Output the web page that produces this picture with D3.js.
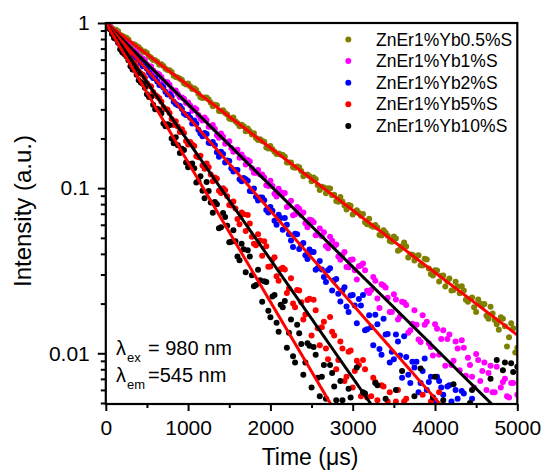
<!DOCTYPE html>
<html>
<head>
<meta charset="utf-8">
<script src="https://cdn.jsdelivr.net/npm/d3@7"></script>
<style>
body { margin: 0; background: #fff; }
text { font-family: "Liberation Sans", Arial, sans-serif; fill: #000; }
</style>
</head>
<body>
<svg width="545" height="471"></svg>
<script>
// time axis of the decay traces (us); two interleaved sampling grids
var times = [0,50,100,150,200,250,300,350,400,450,500,550,600,650,700,750,800,850,900,950,
  1000,1050,1100,1150,1200,1250,1300,1350,1400,1450,1500,1550,1600,1650,1700,1750,1800,1850,1900,1950,
  2000,2050,2100,2150,2200,2250,2300,2350,2400,2450,2500,2550,2600,2650,2700,2750,2800,2850,2900,2950,
  3000,3050,3100,3150,3200,3250,3300,3350,3400,3450,3500,3550,3600,3650,3700,3750,3800,3850,3900,3950,
  4000,4050,4100,4150,4200,4250,4300,4350,4400,4450,4500,4550,4600,4650,4700,4750,4800,4850,4900,4950,5000];
var timesB = [25,75,125,175,225,275,325,375,425,475,525,575,625,675,725,775,825,875,925,975,
  1025,1075,1125,1175,1225,1275,1325,1375,1425,1475,1525,1575,1625,1675,1725,1775,1825,1875,1925,1975,
  2025,2075,2125,2175,2225,2275,2325,2375,2425,2475,2525,2575,2625,2675,2725,2775,2825,2875,2925,2975,
  3025,3075,3125,3175,3225,3275,3325,3375,3425,3475,3525,3575,3625,3675,3725,3775,3825,3875,3925,3975,
  4025,4075,4125,4175,4225,4275,4325,4375,4425,4475,4525,4575,4625,4675,4725,4775,4825,4875,4925,4975];

var yb05 = [1.00,0.962,0.908,0.892,0.836,0.814,0.755,0.740,0.712,0.667,0.659,0.615,0.595,0.559,0.550,0.519,0.505,0.471,0.460,0.431,
  0.430,0.398,0.393,0.355,0.354,0.344,0.313,0.318,0.292,0.285,0.264,0.268,0.247,0.242,0.221,0.221,0.215,0.196,0.193,0.176,
  0.180,0.166,0.162,0.159,0.143,0.143,0.133,0.134,0.118,0.121,0.110,0.113,0.0975,0.101,0.0998,0.0905,0.0836,0.0885,0.0786,0.0790,
  0.0692,0.0734,0.0681,0.0622,0.0652,0.0583,0.0578,0.0516,0.0537,0.0478,0.0510,0.0418,0.0445,0.0443,0.0396,0.0364,0.0392,0.0340,0.0370,0.0302,
  0.0318,0.0272,0.0296,0.0273,0.0240,0.0271,0.0231,0.0240,0.0205,0.0218,0.0178,0.0200,0.0199,0.0162,0.0174,0.0150,0.0165,0.0146,0.0125,0.0142,0.0108];
var yb05B = [0.986,0.933,0.909,0.845,0.824,0.794,0.745,0.725,0.690,0.671,
  0.628,0.598,0.583,0.562,0.529,0.518,0.480,0.467,0.451,0.424,
  0.414,0.402,0.373,0.352,0.354,0.329,0.320,0.293,0.296,0.279,
  0.261,0.254,0.237,0.237,0.230,0.211,0.201,0.198,0.191,0.174,
  0.172,0.161,0.160,0.155,0.143,0.134,0.135,0.127,0.120,0.118,
  0.116,0.104,0.102,0.0930,0.0994,0.0913,0.0827,0.0831,0.0743,0.0783,
  0.0714,0.0708,0.0697,0.0605,0.0592,0.0598,0.0520,0.0556,0.0515,0.0473,
  0.0496,0.0425,0.0469,0.0380,0.0395,0.0387,0.0341,0.0373,0.0326,0.0296,
  0.0317,0.0295,0.0254,0.0284,0.0242,0.0254,0.0255,0.0211,0.0214,0.0190,
  0.0212,0.0195,0.0169,0.0191,0.0159,0.0139,0.0162,0.0110,0.0152,0.0101];

var yb1 = [1.00,0.951,0.884,0.852,0.790,0.762,0.703,0.680,0.630,0.610,0.560,0.546,0.499,0.487,0.445,0.437,0.397,0.390,0.355,0.348,
  0.330,0.294,0.300,0.264,0.268,0.235,0.241,0.209,0.214,0.186,0.192,0.166,0.171,0.160,0.139,0.145,0.124,0.129,0.121,0.104,
  0.111,0.0925,0.0990,0.0918,0.0770,0.0840,0.0695,0.0750,0.0712,0.0580,0.0640,0.0518,0.0570,0.0540,0.0432,0.0480,0.0456,0.0368,0.0410,0.0332,
  0.0370,0.0280,0.0340,0.0318,0.0232,0.0290,0.0215,0.0262,0.0250,0.0178,0.0228,0.0160,0.0205,0.0196,0.0138,0.0182,0.0121,0.0170,0.0155,0.0109,
  0.0150,0.0098,0.0138,0.0122,0.0085,0.0118,0.0079,0.0108,0.0094,0.0072,0.0099,0.0068,0.0088,0.0076,0.0058,0.0083,0.0062,0.0070,0.0054,0.0066,0.0056];
var yb1B = [0.979,0.915,0.879,0.807,0.776,0.739,0.685,0.658,0.617,0.593,
  0.548,0.515,0.495,0.471,0.438,0.423,0.387,0.371,0.354,0.328,
  0.317,0.306,0.277,0.257,0.259,0.235,0.228,0.202,0.205,0.190,
  0.175,0.169,0.153,0.153,0.148,0.132,0.124,0.121,0.116,0.103,
  0.103,0.0890,0.0943,0.0934,0.0786,0.0686,0.0770,0.0687,0.0613,0.0643,
  0.0621,0.0523,0.0511,0.0446,0.0507,0.0447,0.0385,0.0395,0.0333,0.0369,
  0.0318,0.0336,0.0350,0.0239,0.0242,0.0275,0.0188,0.0257,0.0217,0.0178,
  0.0212,0.0167,0.0203,0.0133,0.0151,0.0149,0.0117,0.0149,0.0115,0.0097,
  0.0141,0.0122,0.0084,0.0130,0.0090,0.0107,0.0120,0.0073,0.0085,0.0062,
  0.0091,0.0078,0.0060,0.0084,0.0058,null,0.0067,0.0055,0.0066,null];

var yb2 = [1.00,0.930,0.885,0.815,0.778,0.712,0.684,0.625,0.600,0.547,0.528,0.480,0.463,0.421,0.407,0.369,0.357,0.323,0.314,0.283,
  0.278,0.246,0.245,0.214,0.216,0.188,0.190,0.165,0.166,0.143,0.146,0.126,0.129,0.110,0.113,0.0960,0.0995,0.0842,0.0878,0.0738,
  0.0770,0.0635,0.0690,0.0560,0.0600,0.0482,0.0530,0.0428,0.0466,0.0372,0.0410,0.0320,0.0362,0.0290,0.0318,0.0240,0.0282,0.0206,0.0251,0.0178,
  0.0225,0.0152,0.0195,0.0138,0.0170,0.0112,0.0150,0.0098,0.0130,0.0088,0.0092,0.0118,0.0071,0.0095,0.0066,0.0082,0.0058,0.0078,0.0060,0.0072,
  0.0052,0.0068,0.0056,0.0063,0.0051,0.0060,null,0.0057,null,0.0053,null,null,null,null,null,null,null,null,null,null,null];
var yb2B = [0.977,0.903,0.862,0.779,0.747,0.706,0.644,0.616,0.572,0.547,
  0.499,0.464,0.443,0.419,0.384,0.370,0.334,0.318,0.301,0.277,
  0.267,0.257,0.226,0.206,0.213,0.187,0.182,0.155,0.161,0.147,
  0.132,0.129,0.113,0.115,0.111,0.0957,0.0886,0.0877,0.0845,0.0713,
  0.0729,0.0600,0.0660,0.0660,0.0526,0.0440,0.0525,0.0453,0.0392,0.0425,
  0.0411,0.0328,0.0322,0.0270,0.0327,0.0277,0.0229,0.0240,0.0192,0.0224,
  0.0195,0.0213,0.0225,0.0140,0.0144,0.0171,0.0106,0.0162,0.0131,0.0102,
  0.0130,0.0097,0.0127,0.0074,0.0089,0.0089,0.0066,0.0093,0.0067,0.0054,
  0.0072,0.0062,null,0.0064,null,0.0053,0.0059,null,null,null,
  null,null,null,null,null,null,null,null,null,null];

var yb5 = [1.00,0.930,0.838,0.790,0.710,0.672,0.601,0.571,0.510,0.486,0.432,0.412,0.366,0.350,0.309,0.299,0.262,0.254,0.219,0.216,
  0.184,0.184,0.156,0.157,0.131,0.134,0.110,0.114,0.0935,0.0970,0.0790,0.0830,0.0650,0.0712,0.0550,0.0610,0.0460,0.0525,0.0390,0.0445,
  0.0335,0.0382,0.0275,0.0330,0.0232,0.0285,0.0190,0.0240,0.0160,0.0210,0.0128,0.0182,0.0112,0.0155,0.0092,0.0135,0.0080,0.0118,0.0068,0.0102,
  0.0062,0.0090,0.0055,0.0080,null,0.0071,0.0052,0.0064,null,0.0058,null,0.0060,null,0.0053,null,null,null,0.0056,null,0.0051,
  null,0.0058,null,null,null,null,null,null,null,null,null,null,null,null,null,null,null,null,null,null,null];
var yb5B = [0.969,0.880,0.827,0.734,0.692,0.643,0.577,0.543,0.495,0.465,
  0.417,0.382,0.359,0.334,0.301,0.285,0.241,0.236,0.227,0.193,
  0.190,0.180,0.154,0.137,0.141,0.121,0.116,0.0963,0.100,0.0894,
  0.0785,0.0753,0.0604,0.0694,0.0688,0.0508,0.0451,0.0482,0.0477,0.0334,
  0.0370,0.0293,0.0324,0.0322,0.0247,0.0200,0.0242,0.0204,0.0172,0.0214,
  0.0211,0.0142,0.0144,0.0107,0.0166,0.0128,0.0091,0.0107,0.0072,0.0104,
  0.0078,0.0085,0.0091,0.0054,0.0055,0.0067,null,0.0063,0.0051,null,
  0.0051,null,0.0051,null,null,null,null,null,null,null,
  null,null,null,null,null,null,null,null,null,null,
  null,null,null,null,null,null,null,null,null,null];

var yb10 = [1.00,0.918,0.812,0.760,0.665,0.628,0.548,0.519,0.450,0.428,0.370,0.356,0.300,0.295,0.246,0.244,0.200,0.203,0.163,0.170,
  0.134,0.141,0.108,0.118,0.0870,0.0960,0.0710,0.0800,0.0580,0.0668,0.0470,0.0555,0.0385,0.0460,0.0310,0.0385,0.0255,0.0320,0.0205,0.0270,
  0.0165,0.0225,0.0135,0.0190,0.0108,0.0160,0.0088,0.0132,0.0074,0.0115,0.0062,0.0098,0.0055,0.0085,null,0.0076,0.0052,0.0068,null,0.0061,
  null,0.0082,null,0.0057,null,null,0.0064,null,0.0053,null,null,null,0.0078,null,null,0.0055,null,null,null,null,
  0.0072,null,0.0052,null,null,null,null,null,null,0.0060,null,null,null,null,null,0.0091,null,0.0088,null,0.0077,0.0083];
var yb10B = [0.963,0.859,0.799,0.694,0.648,0.594,0.523,0.486,0.436,0.406,
  0.356,0.320,0.302,0.284,0.237,0.240,0.187,0.182,0.173,0.143,
  0.140,0.132,0.110,0.0964,0.109,0.0819,0.0824,0.0571,0.0706,0.0591,
  0.0473,0.0477,0.0366,0.0426,0.0420,0.0297,0.0259,0.0277,0.0273,0.0181,
  0.0221,0.0153,0.0197,0.0207,0.0133,0.0096,0.0149,0.0114,0.0088,0.0111,
  0.0109,0.0071,0.0072,0.0053,0.0085,0.0063,null,0.0052,null,0.0054,
  null,null,0.0058,null,null,0.0066,null,null,null,null,
  0.0060,null,null,null,null,null,0.0081,null,null,0.0054,
  null,null,null,null,0.0065,null,null,null,0.0050,null,
  null,null,null,0.0070,null,null,0.0079,null,0.0087,null];

var seriesNames = ["ZnEr1%Yb0.5%S", "ZnEr1%Yb1%S", "ZnEr1%Yb2%S", "ZnEr1%Yb5%S", "ZnEr1%Yb10%S"];
var seriesColors = ["#808000", "#ff00ff", "#0000ff", "#ff0000", "#000000"];
var seriesValues = [yb05, yb1, yb2, yb5, yb10];
var seriesValuesB = [yb05B, yb1B, yb2B, yb5B, yb10B];

// single-exponential fits: start and the point where each leaves the frame
var fitStart = [[0, 1], [0, 1], [0, 1], [0, 1], [0, 1]];
var fitEnd = [[5000, 0.0129], [4689, 0.00493], [4060, 0.00493], [3222, 0.00493], [2733, 0.00493]];
var fitColors = ["#ff0000", "#000000", "#ff0000", "#000000", "#ff0000"];

var xMajor = [0, 1000, 2000, 3000, 4000, 5000];
var xMinor = [500, 1500, 2500, 3500, 4500];
var yMajor = [1, 0.1, 0.01];
var yMinor = [0.005, 0.006, 0.007, 0.008, 0.009, 0.02, 0.03, 0.04, 0.05, 0.06, 0.07, 0.08, 0.09,
  0.2, 0.3, 0.4, 0.5, 0.6, 0.7, 0.8, 0.9];

var svg = d3.select("svg");
var pL = 105.8, pR = 517.3, pT = 23, pB = 404;

var x = d3.scaleLinear().domain([0, 5000]).range([pL, pR]);
var y = d3.scaleLog().domain([0.00493, 1]).range([pB, pT]);

svg.append("defs").append("clipPath").attr("id", "plot")
  .append("rect").attr("x", pL).attr("y", pT)
  .attr("width", pR - pL).attr("height", pB - pT);

var plot = svg.append("g").attr("clip-path", "url(#plot)");

seriesValues.forEach(function(vals, k) {
  var pts = [];
  vals.forEach(function(v, i) { if (v != null) pts.push([times[i], v]); });
  seriesValuesB[k].forEach(function(v, i) { if (v != null) pts.push([timesB[i], v]); });
  plot.append("g").selectAll("circle")
    .data(pts)
    .enter().append("circle")
    .attr("cx", function(d) { return x(d[0]); })
    .attr("cy", function(d) { return y(d[1]); })
    .attr("r", 3)
    .attr("fill", seriesColors[k]);
});

var line = d3.line().x(function(d) { return x(d[0]); }).y(function(d) { return y(d[1]); });
fitStart.forEach(function(s, k) {
  plot.append("path")
    .datum([s, fitEnd[k]])
    .attr("d", line)
    .attr("fill", "none")
    .attr("stroke", fitColors[k])
    .attr("stroke-width", 3);
});

// axes
svg.append("g").attr("transform", "translate(0," + pB + ")")
  .call(d3.axisBottom(x).tickValues(xMajor).tickSize(7).tickPadding(9).tickFormat(d3.format("d")));
svg.append("g").attr("transform", "translate(0," + pB + ")")
  .call(d3.axisBottom(x).tickValues(xMinor).tickSize(4).tickFormat(""));

svg.append("g").attr("transform", "translate(" + pL + ",0)")
  .call(d3.axisLeft(y).tickValues(yMajor).tickSize(8).tickPadding(8)
    .tickFormat(function(d) { return d === 1 ? "1" : d === 0.1 ? "0.1" : "0.01"; }));
svg.append("g").attr("transform", "translate(" + pL + ",0)")
  .call(d3.axisLeft(y).tickValues(yMinor).tickSize(5).tickFormat(""));

svg.selectAll(".domain").remove();
svg.selectAll(".tick line").attr("stroke", "#000").attr("stroke-width", 2);
svg.selectAll(".tick text").style("font-size", "21px").attr("fill", "#000");

svg.append("rect")
  .attr("x", pL).attr("y", pT)
  .attr("width", pR - pL).attr("height", pB - pT)
  .attr("fill", "none").attr("stroke", "#000").attr("stroke-width", 2.2);

// axis titles
svg.append("text")
  .attr("x", 310).attr("y", 465)
  .attr("text-anchor", "middle")
  .style("font-size", "23px")
  .text("Time (\u03bcs)");

svg.append("text")
  .attr("transform", "translate(31,211) rotate(-90)")
  .attr("text-anchor", "middle")
  .style("font-size", "24px")
  .text("Intensity (a.u.)");

// legend
var legend = svg.append("g");
seriesNames.forEach(function(name, k) {
  var ly = 39.5 + k * 21.6;
  legend.append("circle").attr("cx", 348.3).attr("cy", ly).attr("r", 3).attr("fill", seriesColors[k]);
  legend.append("text").attr("x", 376).attr("y", ly + 6).style("font-size", "17.5px").text(name);
});

// excitation / emission note
var notes = [["ex", "= 980 nm", 355], ["em", "=545 nm", 381.7]];
notes.forEach(function(n) {
  svg.append("text").attr("x", 116).attr("y", n[2]).style("font-size", "20px").text("\u03bb");
  svg.append("text").attr("x", 127).attr("y", n[2] + 7).style("font-size", "13px").text(n[0]);
  svg.append("text").attr("x", 148).attr("y", n[2]).style("font-size", "20px").text(n[1]);
});
</script>
</body>
</html>
